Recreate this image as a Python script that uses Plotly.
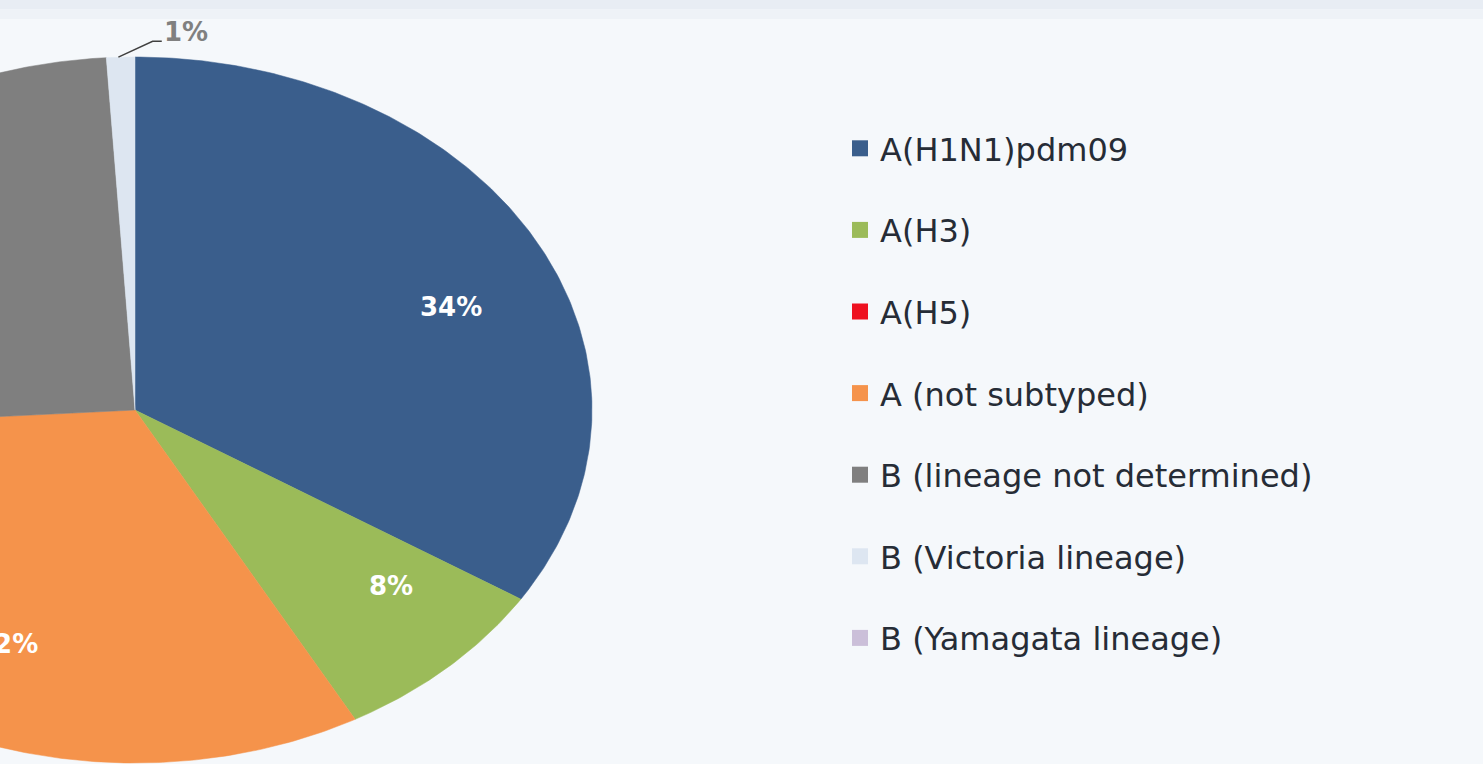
import numpy as np
import plotly.graph_objects as go

# ---- data ----
categories = ["A(H1N1)pdm09", "A(H3)", "A(H5)", "A (not subtyped)",
              "B (lineage not determined)", "B (Victoria lineage)", "B (Yamagata lineage)"]
values = [34, 8, 0, 32, 25, 1, 0]
colors = ["#3a5e8c", "#9bbb59", "#ee1120", "#f5934b", "#7f7f7f", "#dde6f1", "#cbbfd9"]

# ---- style ----
label_r = [0.75, 0.75, 0.75, 0.72, 0.75, 0.75, 0.75]
label_shift_deg = [6, -5, 0, -6, 0, 0, 0]
outside = [False, False, False, False, False, True, False]

total = float(sum(values))
fig = go.Figure()

cum = 0.0
for i, (cat, v, c) in enumerate(zip(categories, values, colors)):
    f0 = cum / total
    cum += v
    f1 = cum / total
    if v <= 0:
        continue
    n = max(8, int(600 * (f1 - f0)))
    th = 2 * np.pi * np.linspace(f0, f1, n)
    xs = np.concatenate([[0], np.sin(th), [0]])
    ys = np.concatenate([[0], np.cos(th), [0]])
    fig.add_trace(go.Scatter(x=xs, y=ys, mode="lines", fill="toself", fillcolor=c,
                             line=dict(color=c, width=0.5), hoverinfo="skip",
                             showlegend=False))
    mid = 2 * np.pi * (f0 + f1) / 2
    pct = f"{v / total * 100:.0f}%"
    if not outside[i]:
        a = mid + np.deg2rad(label_shift_deg[i])
        fig.add_annotation(x=label_r[i] * np.sin(a), y=label_r[i] * np.cos(a), text=f"<b>{pct}</b>",
                           showarrow=False, font=dict(family="DejaVu Sans", size=26, color="white"))
    else:
        ex, ey = np.sin(mid), np.cos(mid)
        fig.add_trace(go.Scatter(x=[ex - 0.005, ex + 0.07, ex + 0.09], y=[ey, ey + 0.045, ey + 0.045],
                                 mode="lines", line=dict(color="#404040", width=1.5),
                                 hoverinfo="skip", showlegend=False))
        fig.add_annotation(x=ex + 0.09, y=ey + 0.07, text=f"<b>{pct}</b>", showarrow=False,
                           xanchor="left", font=dict(family="DejaVu Sans", size=26, color="#808080"))

for cat, c in zip(categories, colors):
    fig.add_trace(go.Scatter(x=[None], y=[None], mode="markers", name=cat, legendgroup=cat,
                             marker=dict(symbol="square", size=20, color=c)))

W, H = 1483, 764
cx, cy, rx, ry = 135, 410, 457, 353
fig.update_xaxes(range=[-cx / rx, (W - cx) / rx], visible=False, fixedrange=True)
fig.update_yaxes(range=[(cy - H) / ry, cy / ry], visible=False, fixedrange=True)

fig.add_shape(type="rect", xref="paper", yref="paper", x0=0, x1=1, y0=0.988, y1=1,
              fillcolor="#e8edf4", line_width=0, layer="below")
fig.add_shape(type="rect", xref="paper", yref="paper", x0=0, x1=1, y0=0.975, y1=0.988,
              fillcolor="#eef2f7", line_width=0, layer="below")

fig.update_layout(
    width=W, height=H,
    margin=dict(l=0, r=0, t=0, b=0),
    paper_bgcolor="#f5f8fb", plot_bgcolor="#f5f8fb",
    showlegend=True,
    legend=dict(x=840 / W, y=1 - 121 / H, xanchor="left", yanchor="top",
                font=dict(family="DejaVu Sans", size=32, color="#262c36"),
                tracegroupgap=37, bgcolor="rgba(0,0,0,0)", itemclick=False, itemdoubleclick=False),
    hovermode=False,
)

fig.write_html("out.html", config={"displayModeBar": False},
               post_script="document.body.style.margin='0';document.body.style.overflow='hidden';")
